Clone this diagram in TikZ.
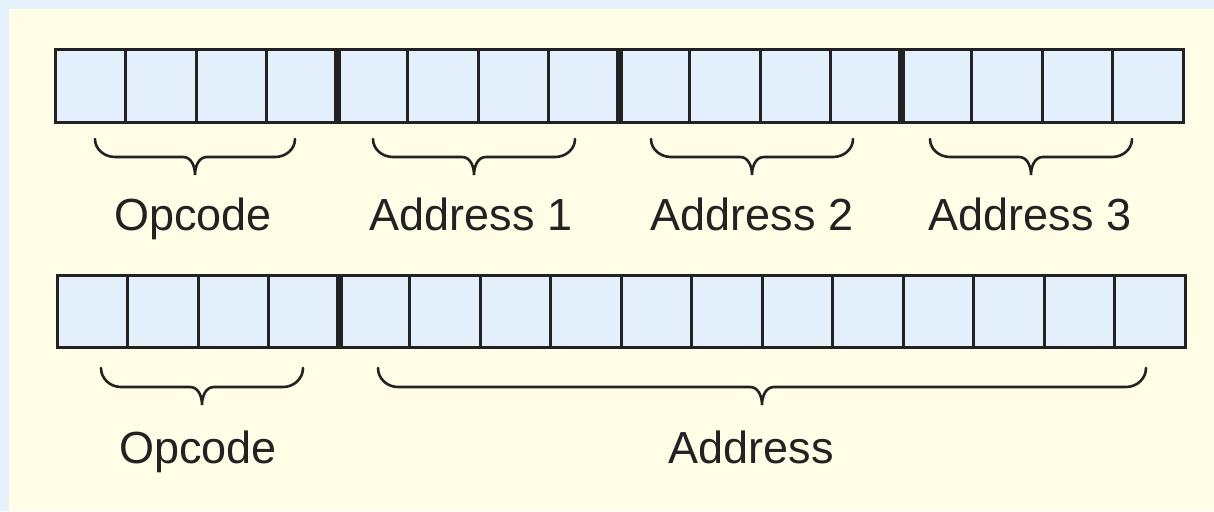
\documentclass[tikz,border=0pt]{standalone}
\usepackage{fontspec}
\setmainfont{Liberation Sans}
\definecolor{outerblue}{HTML}{E3F2FD}
\definecolor{paper}{HTML}{FFFDE6}
\definecolor{cellblue}{HTML}{E3F0FB}
\definecolor{ink}{HTML}{222222}
\tikzset{
  cellbox/.style={draw=ink, fill=cellblue, line width=3pt, minimum width=70.5pt, minimum height=72pt, inner sep=0pt, outer sep=0pt},
  divider/.style={draw=ink, line width=7pt},
  bracepath/.style={draw=ink, line width=2.6pt, line cap=round},
  lbl/.style={font=\fontsize{45}{50}\selectfont, text=ink, anchor=base, inner sep=0pt}
}
\newcommand{\mybrace}[5]{% xc, halfwidth, ytop, ymid, ytip
  \draw[bracepath] (#1-#2,#3) to[out=-90,in=180] (#1-#2+20,#4) -- (#1-12,#4)
    to[out=0,in=90] (#1,#5) to[out=90,in=180] (#1+12,#4) -- (#1+#2-20,#4)
    to[out=0,in=-90] (#1+#2,#3);
}
\begin{document}
\begin{tikzpicture}[x=1pt,y=-1pt]
\useasboundingbox (0,0) rectangle (1214,511);
\fill[outerblue] (0,0) rectangle (1214,511);
\fill[paper] (9,9) rectangle (1214,511);
% row 1
\foreach \i in {0,...,15} {
  \node[cellbox] (a\i) at ({55+70.5*\i+35.25},86) {};
}
\foreach \k in {4,8,12} {
  \draw[divider] ({55+70.5*\k},50) -- ({55+70.5*\k},122);
}
% row 2
\foreach \i in {0,...,15} {
  \node[cellbox] (b\i) at ({57+70.5*\i+35.25},311) {};
}
\draw[divider] ({57+70.5*4},275) -- ({57+70.5*4},347);
% braces row 1
\mybrace{195}{100}{139}{157}{175}
\mybrace{474}{101}{139}{157}{175}
\mybrace{752}{101}{139}{157}{175}
\mybrace{1031}{101}{139}{157}{175}
% braces row 2
\mybrace{202}{101}{368}{387}{405}
\mybrace{762}{384}{368}{387}{405}
% labels
\node[lbl] (l1) at (193,230) {Opcode};
\node[lbl] (l2) at (471,230) {Address 1};
\node[lbl] (l3) at (752,230) {Address 2};
\node[lbl] (l4) at (1030,230) {Address 3};
\node[lbl] (l5) at (198,463) {Opcode};
\node[lbl] (l6) at (751,463) {Address};
\end{tikzpicture}
\end{document}
